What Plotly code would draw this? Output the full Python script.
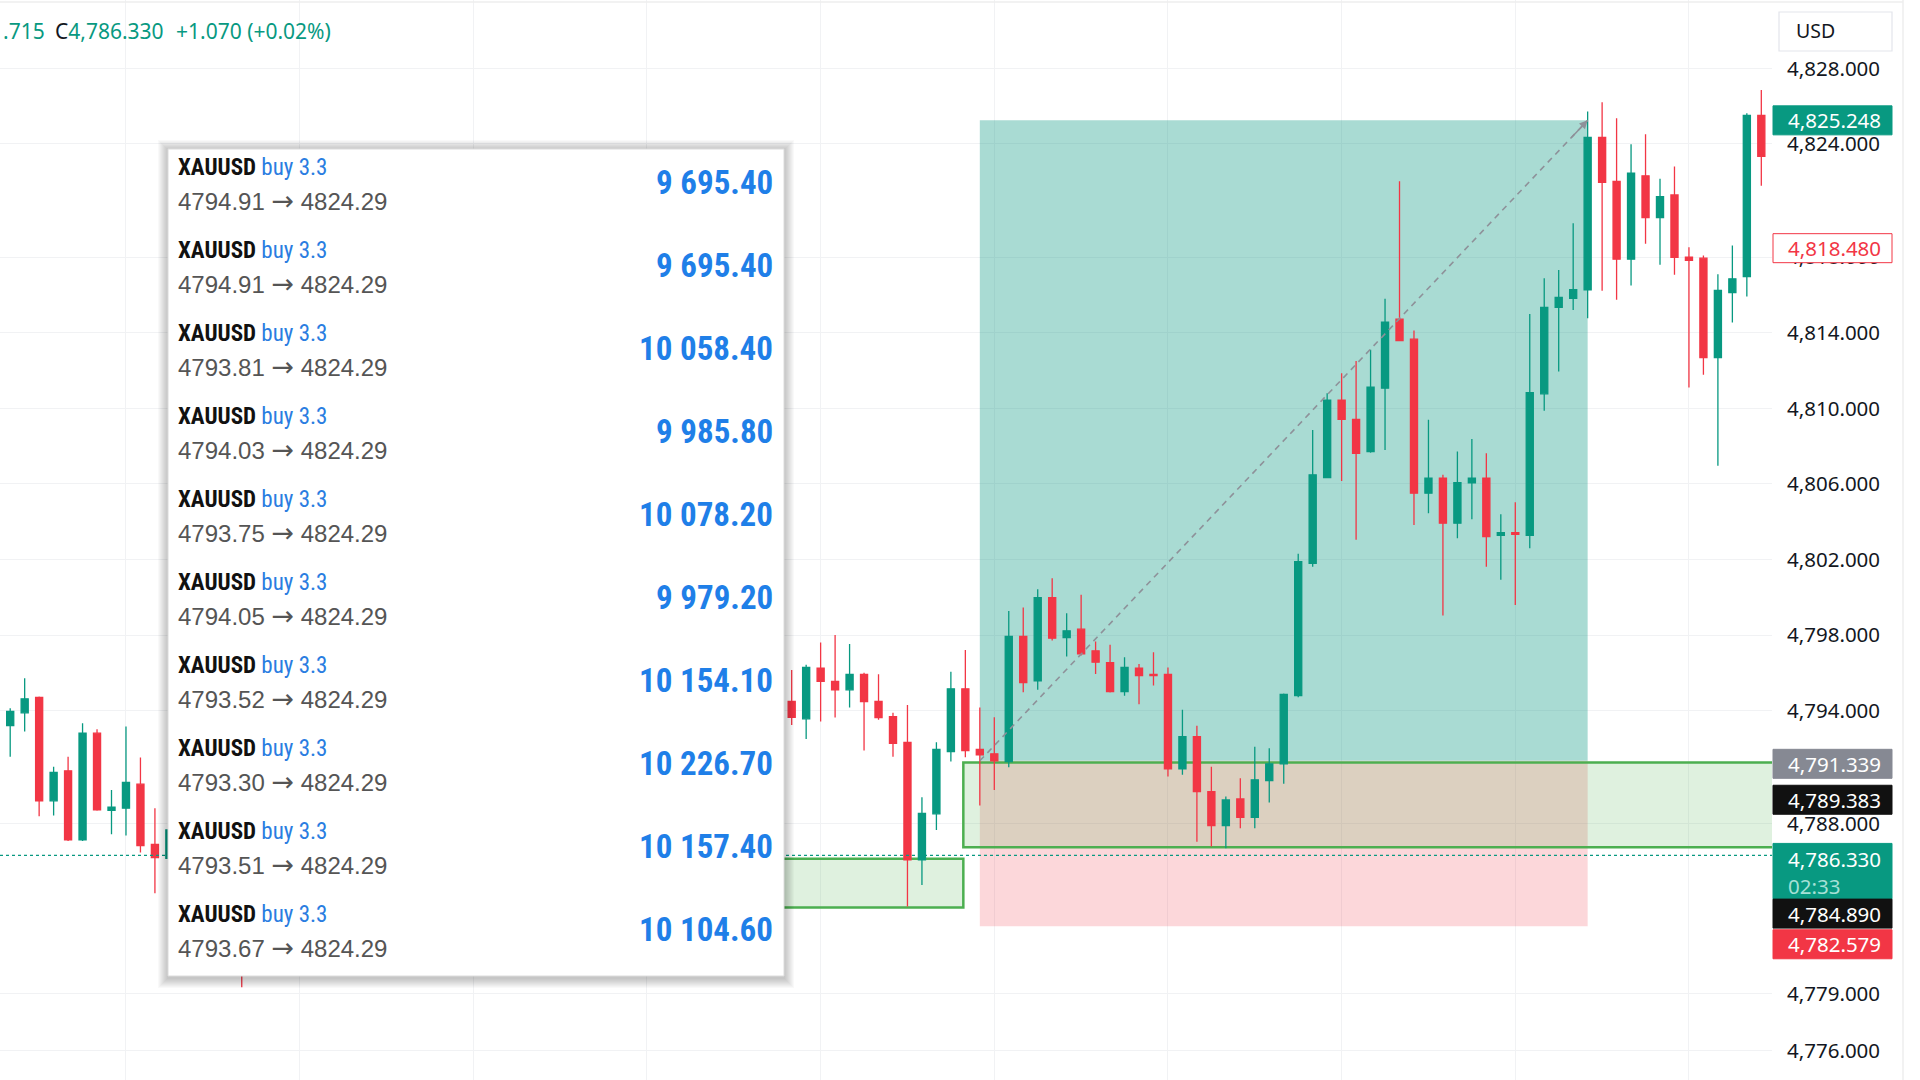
import plotly.graph_objects as go

# ---------------- data ----------------
bar_index = [0, 1, 2, 3, 4, 5, 6, 7, 8, 9, 10, 11, 16,
             54, 55, 56, 57, 58, 59, 60, 61, 62, 63, 64, 65, 66, 67, 68, 69, 70,
             71, 72, 73, 74, 75, 76, 77, 78, 79, 80, 81, 82, 83, 84, 85, 86, 87,
             88, 89, 90, 91, 92, 93, 94, 95, 96, 97, 98, 99, 100, 101, 102, 103,
             104, 105, 106, 107, 108, 109, 110, 111, 112, 113, 114, 115, 116, 117,
             118, 119, 120, 121]
opens = [4793.21, 4793.88, 4794.70, 4789.22, 4790.81, 4787.15, 4792.80, 4788.71, 4788.83, 4790.10, 4786.92, 4786.18, 4787.00,
         4794.48, 4793.56, 4796.24, 4795.54, 4795.10, 4795.92, 4794.48, 4793.68, 4792.31, 4786.09, 4788.53, 4791.83, 4795.15, 4791.95, 4791.71, 4791.30, 4797.92,
         4795.57, 4799.98, 4797.86, 4798.31, 4797.16, 4796.54, 4795.00, 4796.24, 4795.92, 4795.92, 4790.91, 4792.62, 4789.71, 4787.91, 4789.32, 4788.35, 4790.29,
         4791.18, 4794.79, 4801.80, 4806.34, 4810.44, 4809.42, 4807.71, 4811.07, 4814.72, 4813.66, 4805.51, 4806.31, 4803.92, 4806.05, 4806.31, 4803.27,
         4803.42, 4803.27, 4810.77, 4815.35, 4815.83, 4816.28, 4824.34, 4822.01, 4817.90, 4822.31, 4820.10, 4821.30, 4818.00, 4817.95,
         4812.69, 4816.13, 4816.98, 4825.51]
highs = [4794.12, 4795.71, 4794.75, 4791.03, 4791.56, 4793.33, 4793.01, 4789.80, 4793.15, 4791.51, 4788.83, 4788.20, 4788.00,
         4796.15, 4796.42, 4797.60, 4798.00, 4797.53, 4796.00, 4795.92, 4793.89, 4794.30, 4789.41, 4792.32, 4796.06, 4797.21, 4794.16, 4793.65, 4799.27, 4799.45,
         4800.42, 4801.01, 4799.15, 4800.13, 4797.65, 4797.48, 4796.82, 4796.47, 4797.09, 4796.28, 4794.04, 4793.19, 4791.03, 4789.45, 4790.42, 4792.09, 4792.00,
         4794.90, 4802.30, 4808.86, 4810.80, 4811.86, 4812.51, 4813.10, 4815.80, 4822.03, 4814.12, 4809.39, 4806.48, 4807.71, 4808.38, 4807.62, 4804.39,
         4805.03, 4815.00, 4816.89, 4817.33, 4819.80, 4825.72, 4826.20, 4825.36, 4823.98, 4824.51, 4822.15, 4822.80, 4818.53, 4818.09,
         4817.10, 4818.62, 4825.63, 4826.86]
lows = [4791.56, 4792.89, 4788.40, 4788.44, 4787.10, 4787.10, 4788.69, 4787.45, 4787.38, 4786.48, 4784.33, 4785.90, 4779.35,
        4793.24, 4792.50, 4793.42, 4793.63, 4794.16, 4791.88, 4793.51, 4791.56, 4783.62, 4784.77, 4787.68, 4791.30, 4791.53, 4788.97, 4789.80, 4791.00, 4794.97,
        4795.10, 4797.71, 4796.86, 4796.91, 4795.94, 4794.95, 4794.78, 4794.33, 4795.32, 4790.51, 4790.60, 4787.06, 4786.80, 4786.71, 4787.77, 4787.77, 4789.13,
        4790.12, 4794.70, 4801.62, 4806.30, 4806.16, 4803.04, 4807.65, 4807.80, 4813.55, 4803.83, 4804.45, 4799.03, 4803.12, 4804.13, 4801.62, 4800.92,
        4799.59, 4802.59, 4809.87, 4811.95, 4815.21, 4814.77, 4816.23, 4815.75, 4816.50, 4818.71, 4817.60, 4817.07, 4811.10, 4811.78,
        4806.96, 4814.54, 4815.92, 4821.79]
closes = [4793.95, 4794.62, 4789.22, 4790.72, 4787.15, 4792.80, 4788.74, 4788.88, 4790.19, 4786.85, 4786.22, 4787.68, 4786.00,
          4793.64, 4796.29, 4795.54, 4795.10, 4795.92, 4794.48, 4793.63, 4792.27, 4786.09, 4788.56, 4791.95, 4795.15, 4791.88, 4791.65, 4791.34, 4797.92, 4795.48,
          4799.98, 4797.83, 4798.22, 4797.00, 4796.56, 4795.00, 4796.29, 4795.85, 4795.85, 4790.91, 4792.62, 4789.71, 4787.91, 4789.27, 4788.35, 4790.33, 4791.18,
          4794.86, 4801.89, 4806.48, 4810.44, 4809.42, 4807.62, 4811.12, 4814.56, 4813.59, 4805.51, 4806.31, 4803.92, 4806.07, 4806.31, 4803.21, 4803.42,
          4803.33, 4810.83, 4815.35, 4815.88, 4816.28, 4824.34, 4821.96, 4817.90, 4822.45, 4820.10, 4821.21, 4817.99, 4817.83, 4812.69,
          4816.24, 4816.86, 4825.51, 4823.34]

tick_prices = [4776, 4779, 4788, 4794, 4798, 4802, 4806, 4810, 4814, 4818, 4824, 4828]
grid_bars = [8, 20, 32, 44, 56, 68, 80, 92, 104, 116]

# long position tool
entry_price = 4791.339
target_price = 4825.248
stop_price = 4782.579
position_bars = [67, 109]

# rectangles (zones)
zone_bars = [[48, 65.86], [65.86, 130]]
zone_low = [4783.57, 4786.76]
zone_high = [4786.15, 4791.25]

last_price = 4786.330
countdown = "02:33"
header_open_tail = ".715"
header_close = "4,786.330"
header_change = "+1.070 (+0.02%)"

# price scale tags
tag_prices = [4825.248, 4818.480, 4791.339, 4789.383, 4786.330, 4784.890, 4782.579]
tag_bg = ["#089981", "#ffffff", "#868993", "#111111", "#089981", "#111111", "#f23645"]
tag_fg = ["#ffffff", "#f23645", "#ffffff", "#ffffff", "#ffffff", "#ffffff", "#ffffff"]
tag_border = ["#089981", "#f23645", "#868993", "#111111", "#089981", "#111111", "#f23645"]
tag_shift_px = [0, 0, 3, 2, 0, 31, 18]

# trade list panel
trade_symbol = ["XAUUSD"] * 10
trade_side = ["buy 3.3"] * 10
trade_open = ["4794.91", "4794.91", "4793.81", "4794.03", "4793.75",
              "4794.05", "4793.52", "4793.30", "4793.51", "4793.67"]
trade_close = ["4824.29"] * 10
trade_profit = ["9 695.40", "9 695.40", "10 058.40", "9 985.80", "10 078.20",
                "9 979.20", "10 154.10", "10 226.70", "10 157.40", "10 104.60"]

# ---------------- layout constants ----------------
W, H = 1920, 1080
PLOT_W = 1772
BAR0_PX, BAR_PX = 10.2, 14.472
Y_TOP, Y_BOT = 4831.62, 4774.44
GREEN, RED = "#089981", "#f23645"
AXIS_FONT = "Noto Sans, Open Sans, sans-serif"
COND = "Liberation Sans Narrow, Roboto Condensed, Arial Narrow, Roboto, sans-serif"
HELV = "Liberation Sans, Arial, sans-serif"


def fx(px):
    return px / PLOT_W


def fy(py):
    return 1 - py / H


fig = go.Figure()
fig.add_trace(go.Candlestick(
    x=bar_index, open=opens, high=highs, low=lows, close=closes,
    increasing=dict(line=dict(color=GREEN, width=1.3), fillcolor=GREEN),
    decreasing=dict(line=dict(color=RED, width=1.3), fillcolor=RED),
    whiskerwidth=0, showlegend=False, hoverinfo="skip"))

fig.add_trace(go.Scatter(
    x=position_bars, y=[entry_price, target_price], mode="lines",
    line=dict(color="#8e9199", width=1.6, dash="6px,5px"),
    showlegend=False, hoverinfo="skip"))

shapes = []
shapes.append(dict(type="rect", xref="x", yref="y", x0=position_bars[0], x1=position_bars[1],
                   y0=stop_price, y1=entry_price, fillcolor="rgba(242,54,69,0.2)",
                   line=dict(width=0), layer="between"))
shapes.append(dict(type="rect", xref="x", yref="y", x0=position_bars[0], x1=position_bars[1],
                   y0=entry_price, y1=target_price, fillcolor="rgba(8,153,129,0.35)",
                   line=dict(width=0), layer="between"))
for (b0, b1), lo, hi in zip(zone_bars, zone_low, zone_high):
    shapes.append(dict(type="rect", xref="x", yref="y", x0=b0, x1=b1, y0=lo, y1=hi,
                       fillcolor="rgba(76,175,80,0.18)",
                       line=dict(color="#4caf50", width=2.5), layer="between"))
shapes.append(dict(type="line", xref="paper", yref="y", x0=0, x1=1, y0=last_price, y1=last_price,
                   line=dict(color=GREEN, width=1.2, dash="dot"), layer="above"))

# panel shadow + panel
P_L, P_R, P_T, P_B = 168, 784, 149, 976
for k in range(1, 11):
    shapes.append(dict(type="rect", xref="paper", yref="paper",
                       x0=fx(P_L - k), x1=fx(P_R + k), y0=fy(P_B + k + 2), y1=fy(P_T - k + 1),
                       fillcolor="rgba(0,0,0,0.022)", line=dict(width=0), layer="above"))
shapes.append(dict(type="rect", xref="paper", yref="paper",
                   x0=fx(P_L), x1=fx(P_R), y0=fy(P_B), y1=fy(P_T),
                   fillcolor="#ffffff", line=dict(color="#dcdcdc", width=1), layer="above"))

# USD button
shapes.append(dict(type="rect", xref="paper", yref="paper", x0=fx(1776), x1=fx(1896),
                   y0=fy(61), y1=fy(6), fillcolor="#ffffff", line=dict(width=0), layer="above"))
shapes.append(dict(type="rect", xref="paper", yref="paper", x0=fx(1779), x1=fx(1892),
                   y0=fy(51), y1=fy(12), fillcolor="#ffffff",
                   line=dict(color="#e3e5eb", width=1.2), layer="above"))
shapes.append(dict(type="line", xref="paper", yref="paper", x0=0, x1=fx(1903), y0=fy(2), y1=fy(2),
                   line=dict(color="#eeeeee", width=1.5), layer="above"))
shapes.append(dict(type="line", xref="paper", yref="paper", x0=fx(1903), x1=fx(1903), y0=0, y1=1,
                   line=dict(color="#eeeeee", width=1.5), layer="above"))

annotations = []
for p, bg, fg, bc, s in zip(tag_prices, tag_bg, tag_fg, tag_border, tag_shift_px):
    two_line = (p == last_price)
    if two_line:
        y0, y1 = 12, -43.5
    else:
        y0, y1 = -s + 14.5, -s - 14.5
    shapes.append(dict(type="rect", xref="paper", xsizemode="pixel", xanchor=1, x0=1, x1=120,
                       yref="y", ysizemode="pixel", yanchor=p, y0=y0, y1=y1,
                       fillcolor=bg, line=dict(color=bc, width=1), layer="above"))
    label = f"{p:,.3f}"
    if two_line:
        annotations.append(dict(xref="paper", yref="y", x=1, y=p, xanchor="left", yanchor="top",
                                xshift=14, yshift=12, align="left", showarrow=False,
                                text=f"{label}<br><span style='color:#a6e0d6'>{countdown}</span>",
                                font=dict(family=AXIS_FONT, size=20.5, color=fg)))
    else:
        annotations.append(dict(xref="paper", yref="y", x=1, y=p, xanchor="left", yanchor="middle",
                                xshift=14, yshift=-s, showarrow=False, text=label,
                                font=dict(family=AXIS_FONT, size=20.5, color=fg)))

annotations.append(dict(xref="x", yref="y", axref="x", ayref="y", x=position_bars[1], y=target_price,
                        ax=position_bars[1] - 1.2,
                        ay=target_price - (target_price - entry_price) * 1.2 / (position_bars[1] - position_bars[0]),
                        showarrow=True, arrowhead=2, arrowsize=1.1, arrowwidth=1.5,
                        arrowcolor="#8e9199", text=""))

# header
annotations.append(dict(xref="paper", yref="paper", x=fx(1), y=fy(31), xanchor="left", yanchor="middle",
                        showarrow=False, text=header_open_tail,
                        font=dict(family=AXIS_FONT, size=21, color=GREEN)))
annotations.append(dict(xref="paper", yref="paper", x=fx(53), y=fy(31), xanchor="left", yanchor="middle",
                        showarrow=False,
                        text=f"<span style='color:#131722'>C</span>{header_close}",
                        font=dict(family=AXIS_FONT, size=21, color=GREEN)))
annotations.append(dict(xref="paper", yref="paper", x=fx(174), y=fy(31), xanchor="left", yanchor="middle",
                        showarrow=False, text=header_change,
                        font=dict(family=AXIS_FONT, size=21, color=GREEN)))
annotations.append(dict(xref="paper", yref="paper", x=fx(1794), y=fy(31), xanchor="left",
                        yanchor="middle", showarrow=False, text="USD",
                        font=dict(family=AXIS_FONT, size=19.5, color="#131722")))

ROW0, ROW_H = 167.8, 83.0
for r, (sym, side, o, c, pr) in enumerate(zip(trade_symbol, trade_side, trade_open, trade_close, trade_profit)):
    y1 = ROW0 + ROW_H * r
    annotations.append(dict(xref="paper", yref="paper", x=fx(176), y=fy(y1), xanchor="left",
                            yanchor="middle", showarrow=False,
                            text=f"<b>{sym}</b> <span style='color:#2a7de1'>{side}</span>",
                            font=dict(family=COND, size=23, color="#111111")))
    annotations.append(dict(xref="paper", yref="paper", x=fx(176), y=fy(y1 + 33), xanchor="left",
                            yanchor="middle", showarrow=False,
                            text=(f"{o} <span style='font-family:DejaVu Sans;font-size:27px'>\u2192</span> {c}"),
                            font=dict(family=HELV, size=24, color="#555555")))
    annotations.append(dict(xref="paper", yref="paper", x=fx(775), y=fy(y1 + 14.7), xanchor="right",
                            yanchor="middle", showarrow=False, text=f"<b>{pr}</b>",
                            font=dict(family=COND, size=33, color="#1f7fe8")))

fig.update_layout(
    width=W, height=H,
    margin=dict(l=0, r=W - PLOT_W, t=0, b=0),
    paper_bgcolor="#ffffff", plot_bgcolor="#ffffff",
    showlegend=False,
    shapes=shapes, annotations=annotations,
    xaxis=dict(range=[(0 - BAR0_PX) / BAR_PX, (PLOT_W - BAR0_PX) / BAR_PX],
               tickvals=grid_bars, showticklabels=False, ticks="",
               showgrid=True, gridcolor="#f1f2f4", gridwidth=1, zeroline=False,
               showline=False, rangeslider=dict(visible=False), fixedrange=True),
    yaxis=dict(range=[Y_BOT, Y_TOP], side="right", tickvals=tick_prices,
               ticktext=[f"{t:,.3f}" for t in tick_prices], ticks="",
               ticklabelstandoff=14, automargin=False,
               tickfont=dict(family=AXIS_FONT, size=20.5, color="#131722"),
               showgrid=True, gridcolor="#f1f2f4", gridwidth=1, zeroline=False,
               showline=False, fixedrange=True),
)

fig.write_html("out.html", config={"displayModeBar": False},
               post_script="document.body.style.margin='0';document.body.style.overflow='hidden';")
